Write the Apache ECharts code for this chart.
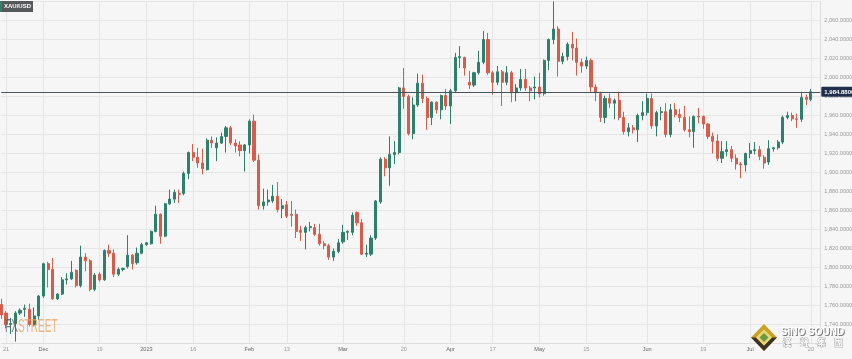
<!DOCTYPE html>
<html><head><meta charset="utf-8">
<script src="https://cdn.jsdelivr.net/npm/echarts/dist/echarts.min.js"></script>
<style>html,body{margin:0;padding:0;background:#f6f6f6}#c{width:852px;height:359px}</style>
</head><body><div id="c"></div>
<script>
const dates = [
'2022-11-18','2022-11-21','2022-11-22','2022-11-23','2022-11-24','2022-11-25','2022-11-28','2022-11-29','2022-11-30',
'2022-12-01','2022-12-02','2022-12-05','2022-12-06','2022-12-07','2022-12-08','2022-12-09','2022-12-12','2022-12-13','2022-12-14','2022-12-15','2022-12-16','2022-12-19','2022-12-20','2022-12-21','2022-12-22','2022-12-23','2022-12-26','2022-12-27','2022-12-28','2022-12-29','2022-12-30',
'2023-01-02','2023-01-03','2023-01-04','2023-01-05','2023-01-06','2023-01-09','2023-01-10','2023-01-11','2023-01-12','2023-01-13','2023-01-16','2023-01-17','2023-01-18','2023-01-19','2023-01-20','2023-01-23','2023-01-24','2023-01-25','2023-01-26','2023-01-27','2023-01-30','2023-01-31',
'2023-02-01','2023-02-02','2023-02-03','2023-02-06','2023-02-07','2023-02-08','2023-02-09','2023-02-10','2023-02-13','2023-02-14','2023-02-15','2023-02-16','2023-02-17','2023-02-20','2023-02-21','2023-02-22','2023-02-23','2023-02-24','2023-02-27','2023-02-28',
'2023-03-01','2023-03-02','2023-03-03','2023-03-06','2023-03-07','2023-03-08','2023-03-09','2023-03-10','2023-03-13','2023-03-14','2023-03-15','2023-03-16','2023-03-17','2023-03-20','2023-03-21','2023-03-22','2023-03-23','2023-03-24','2023-03-27','2023-03-28','2023-03-29','2023-03-30','2023-03-31',
'2023-04-03','2023-04-04','2023-04-05','2023-04-06','2023-04-10','2023-04-11','2023-04-12','2023-04-13','2023-04-14','2023-04-17','2023-04-18','2023-04-19','2023-04-20','2023-04-21','2023-04-24','2023-04-25','2023-04-26','2023-04-27','2023-04-28',
'2023-05-01','2023-05-02','2023-05-03','2023-05-04','2023-05-05','2023-05-08','2023-05-09','2023-05-10','2023-05-11','2023-05-12','2023-05-15','2023-05-16','2023-05-17','2023-05-18','2023-05-19','2023-05-22','2023-05-23','2023-05-24','2023-05-25','2023-05-26','2023-05-29','2023-05-30','2023-05-31',
'2023-06-01','2023-06-02','2023-06-05','2023-06-06','2023-06-07','2023-06-08','2023-06-09','2023-06-12','2023-06-13','2023-06-14','2023-06-15','2023-06-16','2023-06-19','2023-06-20','2023-06-21','2023-06-22','2023-06-23','2023-06-26','2023-06-27','2023-06-28','2023-06-29','2023-06-30',
'2023-07-03','2023-07-04','2023-07-05','2023-07-06','2023-07-07','2023-07-10','2023-07-11','2023-07-12','2023-07-13','2023-07-14','2023-07-17','2023-07-18','2023-07-19','2023-07-20'
];
const opens = [
1761,1752,1740,1741,1752,1756,1756,1740,1749,
1770,1804,1798,1767,1772,1787,1788,1797,1781,1811,1807,1777,1793,1787,1818,1815,1793,1798,1801,1813,1805,1815,
1824,1825,1838,1856,1833,1867,1872,1878,1878,1899,1921,1916,1910,1903,1934,1926,1931,1938,1947,1931,1929,1923,
1929,1954,1913,1865,1869,1870,1875,1862,1866,1856,1856,1839,1837,1842,1842,1835,1825,1823,1811,1817,
1827,1837,1837,1858,1847,1814,1814,1831,1869,1914,1905,1919,1921,1989,1980,1941,1971,1994,1978,1958,1974,1966,1981,
1970,1986,2021,2021,1995,1992,2005,2016,2040,2005,1995,2006,1995,2005,1984,1989,1998,1989,1989,
1990,1983,2018,2040,2051,2017,2022,2035,2031,2016,2012,2018,1990,1983,1958,1978,1973,1976,1958,1943,1947,1945,1960,
1963,1978,1949,1963,1964,1940,1966,1961,1958,1945,1943,1959,1959,1951,1938,1933,1915,1922,1924,1915,1909,1908,
1920,1923,1924,1916,1911,1925,1926,1932,1958,1960,1956.5,1956,1979,1977
];
const closes = [
1750,1740,1741,1752,1755,1757,1740,1749,1770,
1804,1798,1767,1772,1787,1788,1795,1781,1811,1807,1777,1792,1787,1818,1815,1793,1798,1799,1813,1804,1815,1824,
1826,1838,1856,1833,1867,1872,1879,1877,1899,1921,1916,1910,1904,1934,1931,1931,1938,1947,1931,1928,1923,1929,
1954,1913,1865,1869,1871,1875,1861,1865,1854,1855,1838,1837,1842,1843,1835,1825,1823,1811,1817,1826,
1837,1838,1855,1847,1814,1815,1831,1870,1914,1905,1919,1921,1989,1980,1941,1971,1994,1978,1958,1974,1966,1981,1970,
1986,2021,2022,2010,1992,2005,2016,2040,2005,1995,2006,1995,2005,1984,1989,1998,1989,1986,1990,
1983,2018,2040,2051,2017,2022,2035,2031,2016,2012,2018,1990,1984,1958,1978,1973,1976,1958,1943,1947,1945,1960,1963,
1978,1949,1963,1964,1940,1966,1961,1958,1945,1943,1959,1958.5,1951,1938,1933,1915,1922,1924,1915,1909,1908,1920,
1923,1924,1917,1910,1925,1926,1932,1958,1960,1956.5,1956,1979,1977,1984.88
];
const lows = [
1746,1736,1730,1722,1750,1748,1738,1738,1745,
1768,1779,1766,1766,1771,1782,1787,1779,1779,1796,1775,1775,1785,1786,1811,1790,1791,1796,1799,1798,1803,1814,
1823,1824,1837,1825,1832,1866,1868,1868,1876,1893,1912,1905,1898,1902,1926,1912,1930,1921,1929,1921,1917,1901,
1920,1911,1861,1861,1865,1868,1858,1852,1852,1843,1831,1828,1819,1838,1833,1823,1819,1808,1807,1815,
1825,1829,1834,1844,1813,1811,1812,1829,1867,1896,1886,1909,1919,1967,1939,1935,1969,1973,1945,1950,1962,1956,1966,
1951,1984,2010,2002,1988,1990,2003,2014,2003,1982,1992,1970,1992,1974,1975,1986,1986,1975,1977,
1979,1981,2008,2035,2001,2014,2018,2018,2002,2005,2009,1985,1975,1953,1952,1968,1956,1955,1940,1938,1941,1932,1955,
1960,1946,1938,1955,1937,1937,1958,1953,1943,1937,1926,1952,1946,1935,1920,1912,1910,1917,1911,1903,1894,1901,
1915,1919,1913,1904,1908,1922,1924,1930,1956,1954,1947,1953,1971,1975
];
const highs = [
1767,1754,1747,1754,1757,1761,1762,1758,1771,
1805,1806,1810,1773,1790,1794,1807,1798,1823,1815,1809,1794,1795,1819,1824,1819,1800,1800,1834,1814,1821,1826,
1827,1839,1865,1857,1868,1882,1882,1882,1901,1922,1930,1926,1925,1936,1938,1937,1942,1949,1949,1935,1933,1930,
1956,1961,1919,1883,1882,1887,1890,1872,1870,1870,1861,1844,1844,1848,1846,1846,1828,1825,1820,1830,
1845,1839,1858,1859,1851,1824,1834,1871,1916,1916,1938,1933,1990,2010,1982,1979,2004,2003,1980,1975,1975,1982,1988,
1988,2026,2033,2022,2007,2006,2028,2049,2047,2007,2012,2008,2012,2007,1993,2009,2009,1991,2001,
2005,2019,2041,2080,2054,2026,2037,2048,2041,2020,2022,2020,1993,1985,1981,1983,1978,1985,1964,1952,1950,1962,1975,
1983,1983,1965,1969,1973,1972,1973,1967,1970,1959,1960,1968,1960,1952,1942,1940,1933,1933,1928,1919,1911,1921,
1931,1932,1928,1918,1934,1927,1934,1960,1964,1963,1962,1985,1982,1988
];
const tickDates = ['2022-11-21','2022-12-01','2022-12-19','2023-01-02','2023-01-16','2023-02-01','2023-02-13','2023-03-01','2023-03-20','2023-04-03','2023-04-17','2023-05-01','2023-05-15','2023-06-01','2023-06-19','2023-07-03','2023-07-20'];
const tickLabels = ['21','Dec','19','2023','16','Feb','13','Mar','20','Apr','17','May','15','Jun','19','Jul','20'];
const symbolName = 'XAU/USD';
const currentPrice = 1984.88;

const categories = dates.concat(['', '']);
const ohlc = dates.map((d, i) => [opens[i], closes[i], lows[i], highs[i]]);
const FONT = 'Liberation Sans, Arial, sans-serif';
const fmt = v => v.toLocaleString('en-US', {minimumFractionDigits: 4, maximumFractionDigits: 4});

const chart = echarts.init(document.getElementById('c'), null, {renderer: 'canvas'});
chart.setOption({
  animation: false,
  backgroundColor: '#f6f6f6',
  grid: {left: 1.32, right: 31.7, top: 1.5, height: 342, containLabel: false, outerBoundsMode: 'none'},
  xAxis: {
    type: 'category', data: categories, boundaryGap: false,
    axisLine: {show: true, lineStyle: {color: '#dddddd', width: 1}},
    axisTick: {show: false},
    axisLabel: {
      interval: (idx, val) => tickDates.indexOf(val) >= 0,
      hideOverlap: false,
      margin: 3,
      formatter: val => {
        const t = tickLabels[tickDates.indexOf(val)];
        return t.length > 2 ? '{m|' + t + '}' : '{d|' + t + '}';
      },
      rich: {
        m: {fontSize: 5.6, color: '#666', fontFamily: FONT},
        d: {fontSize: 5.6, color: '#999', fontFamily: FONT}
      }
    },
    splitLine: {show: true, interval: (idx, val) => tickDates.indexOf(val) >= 0, lineStyle: {color: '#e6e6e6', width: 1}}
  },
  yAxis: {
    type: 'value', position: 'right', min: 1720, max: 2080, interval: 20, scale: true,
    axisLine: {show: true, lineStyle: {color: '#dddddd'}},
    axisTick: {show: false},
    axisLabel: {margin: 4, fontSize: 5.6, color: '#999', fontFamily: FONT, formatter: fmt, showMinLabel: false, showMaxLabel: false},
    splitLine: {show: true, lineStyle: {color: '#e6e6e6', width: 1}}
  },
  series: [{
    type: 'candlestick',
    data: ohlc,
    barWidth: 2.6,
    clip: false,
    itemStyle: {color: '#2e7f6b', color0: '#d65c4b', borderColor: '#2e7f6b', borderColor0: '#d65c4b', borderWidth: 1},
    markLine: {
      silent: true, symbol: ['none', 'none'],
      lineStyle: {color: '#46525e', width: 1, type: 'solid'},
      label: {show: true, position: 'end', distance: 1, formatter: () => fmt(currentPrice),
        color: '#fff', fontSize: 6, fontWeight: 'bold', fontFamily: FONT,
        backgroundColor: '#1e2e4c', padding: [2, 2, 2, 3], borderRadius: 1},
      data: [{yAxis: currentPrice}]
    }
  }],
  graphic: [
    {type: 'rect', shape: {x: 0, y: 1, width: 33, height: 11}, style: {fill: '#56595b'}, z: 100},
    {type: 'rect', shape: {x: 0, y: 1, width: 2, height: 11}, style: {fill: '#2e7f6b'}, z: 101},
    {type: 'text', x: 17.5, y: 6.8, z: 101, style: {text: symbolName, fill: '#fff', fontSize: 6, fontWeight: 'bold', fontFamily: FONT, align: 'center', verticalAlign: 'middle', textAlign: 'center', textVerticalAlign: 'middle'}},
    {type: 'text', x: 5, y: 327, scaleX: 0.56, scaleY: 1, z: 90, style: {
      text: '{a|FX}{b|STREET}', verticalAlign: 'middle', textVerticalAlign: 'middle',
      rich: {a: {fill: 'rgba(95,95,95,0.8)', fontSize: 18, fontFamily: FONT}, b: {fill: 'rgba(230,160,90,0.75)', fontSize: 18, fontFamily: FONT}}
    }},
    {type: 'polygon', z: 95, shape: {points: [[764, 324], [777, 337.5], [764, 351], [751, 337.5]]}, style: {fill: '#c9a22a'}},
    {type: 'polygon', z: 96, shape: {points: [[777, 337.5], [764, 351], [751, 337.5], [756, 337.5], [764, 345.5], [772, 337.5]]}, style: {fill: '#3b3222'}},
    {type: 'polygon', z: 96, shape: {points: [[764, 329.5], [772, 337.5], [764, 345.5], [756, 337.5]]}, style: {fill: '#e8d77a'}},
    {type: 'polygon', z: 97, shape: {points: [[764, 333], [768.5, 337.5], [764, 342], [759.5, 337.5]]}, style: {fill: '#6c9a3c'}},
    {type: 'text', x: 813.5, y: 333, z: 95, style: {text: 'SiNO SOUND', fill: '#777', fontSize: 10, fontWeight: 'bold', fontFamily: FONT, align: 'center', verticalAlign: 'middle', textAlign: 'center', textVerticalAlign: 'middle'}},
    {type: 'text', x: 812.5, y: 332, z: 96, style: {text: 'SiNO SOUND', fill: '#fff', fontSize: 10, fontWeight: 'bold', fontFamily: FONT, align: 'center', verticalAlign: 'middle', textAlign: 'center', textVerticalAlign: 'middle'}},
    ...['漢', '聲', '集', '團'].map((ch, i) => ({type: 'text', x: 787 + i * 17.2, y: 343, z: 96, style: {text: ch, fill: '#fff', stroke: '#888', lineWidth: 0.6, fontSize: 9, fontWeight: 'bold', fontFamily: 'Noto Sans CJK TC', align: 'center', verticalAlign: 'middle', textAlign: 'center', textVerticalAlign: 'middle'}}))
  ]
});
</script>
</body></html>
